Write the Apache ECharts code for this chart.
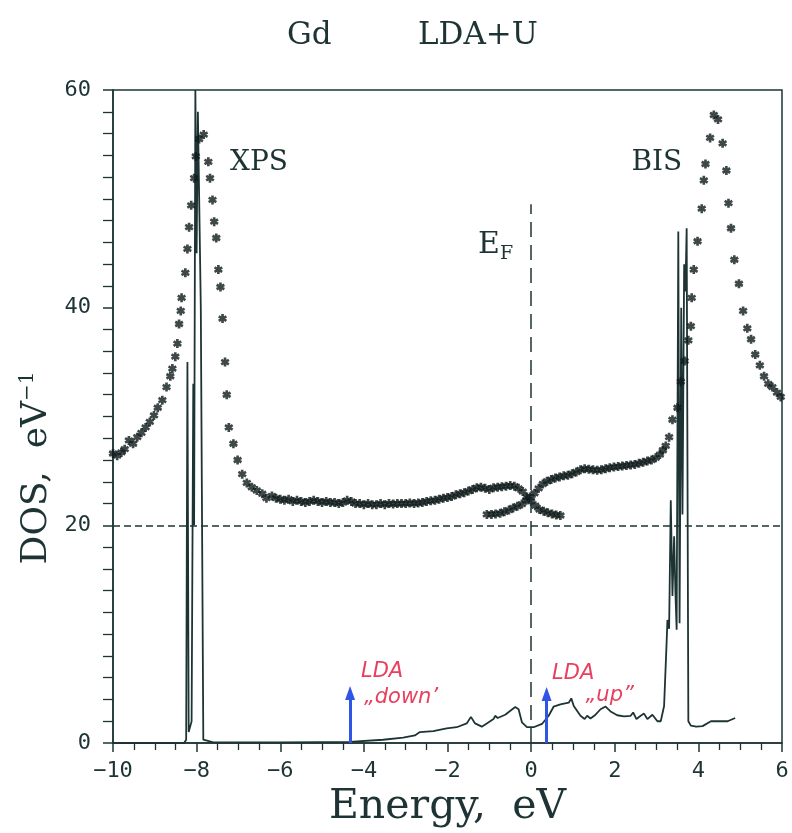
<!DOCTYPE html>
<html>
<head>
<meta charset="utf-8">
<script src="https://cdn.jsdelivr.net/npm/echarts@6/dist/echarts.min.js"></script>
<style>
  html, body { margin: 0; padding: 0; background: #fff; }
  #chart { width: 792px; height: 833px; }
</style>
</head>
<body>
<div id="chart"></div>
<script>
// Gd, LDA+U: calculated density of states vs. XPS / BIS spectra
const INK = '#1e3434';

// Tick settings for the energy axis (eV) and DOS axis (1/eV)
const energyTicks = { min: -10, max: 6, step: 2 };
const dosTicks = { min: 0, max: 60, step: 20 };

// Calculated LDA+U density of states, [energy, DOS]
const dosCurve = [
  [-10, 0], [-8.3, 0], [-8.25, 0.3], [-8.22, 35], [-8.19, 1], [-8.12, 2], [-8.08, 33],
  [-8.06, 20], [-8.03, 60], [-8.0, 45], [-7.97, 58], [-7.9, 40], [-7.84, 0.3],
  [-7.6, 0.05], [-7.0, 0.05], [-6.0, 0.05], [-5.0, 0.08],
  [-4.34, 0.1], [-3.54, 0.3], [-3.06, 0.5], [-2.78, 0.7], [-2.66, 1.0], [-2.34, 1.1],
  [-2.02, 1.35], [-1.78, 1.45], [-1.54, 1.8], [-1.44, 2.4], [-1.34, 1.8], [-1.18, 1.5],
  [-1.06, 1.8], [-0.90, 2.2], [-0.86, 2.5], [-0.80, 2.3], [-0.62, 2.6], [-0.38, 3.3],
  [-0.30, 3.1], [-0.22, 1.9], [-0.10, 1.45], [0.06, 1.45], [0.26, 1.75], [0.42, 2.5],
  [0.54, 3.35], [0.70, 3.55], [0.90, 3.7], [0.96, 4.1], [1.02, 3.4], [1.18, 2.5],
  [1.28, 2.2], [1.34, 2.5], [1.42, 2.25], [1.54, 2.6], [1.66, 3.1], [1.78, 3.35],
  [1.90, 2.9], [2.06, 2.55], [2.22, 2.45], [2.38, 2.5], [2.44, 2.8], [2.52, 2.2],
  [2.62, 2.5], [2.70, 2.7], [2.78, 2.2], [2.90, 2.6], [3.02, 2.0], [3.10, 2.0],
  [3.18, 3.4], [3.24, 9.2], [3.26, 11.3], [3.30, 10.5], [3.34, 22.3], [3.38, 13.5],
  [3.42, 19], [3.45, 14], [3.48, 10.4], [3.52, 47], [3.55, 11], [3.59, 40], [3.62, 21],
  [3.66, 44], [3.69, 41.5], [3.72, 47.3], [3.76, 2.0], [3.82, 1.6], [3.95, 1.5],
  [4.1, 1.55], [4.3, 2.0], [4.5, 2.0], [4.7, 2.0], [4.88, 2.3]
];

// XPS spectrum (occupied states), [energy, intensity]
const xpsPoints = [
  [-10.0, 26.6], [-9.9, 26.4], [-9.8, 26.7], [-9.72, 27.0], [-9.62, 27.8], [-9.52, 27.5],
  [-9.42, 28.1], [-9.32, 28.5], [-9.22, 29.0], [-9.12, 29.5], [-9.02, 30.1], [-8.93, 30.8],
  [-8.82, 31.5], [-8.72, 32.7], [-8.63, 33.7], [-8.58, 34.4], [-8.51, 35.5], [-8.46, 36.7],
  [-8.42, 38.5], [-8.38, 39.7], [-8.36, 40.9], [-8.27, 43.2], [-8.22, 45.4], [-8.18, 47.4],
  [-8.13, 49.4], [-8.06, 51.9], [-8.02, 53.9], [-7.94, 55.5], [-7.83, 55.9], [-7.72, 53.4],
  [-7.68, 51.9], [-7.62, 49.9], [-7.58, 47.9], [-7.53, 46.4], [-7.48, 43.5], [-7.43, 41.9],
  [-7.38, 39.0], [-7.32, 35.0], [-7.28, 32.0], [-7.23, 29.0], [-7.12, 27.5], [-7.02, 26.0],
  [-6.91, 24.7], [-6.80, 23.9], [-6.68, 23.5], [-6.56, 23.2], [-6.43, 22.9], [-6.33, 22.5],
  [-6.2, 22.7], [-6.1, 22.5], [-6.0, 22.4], [-5.9, 22.3], [-5.8, 22.4], [-5.7, 22.2],
  [-5.6, 22.3], [-5.5, 22.2], [-5.4, 22.1], [-5.3, 22.2], [-5.2, 22.3], [-5.1, 22.2],
  [-5.0, 22.1], [-4.9, 22.2], [-4.8, 22.1], [-4.7, 22.1], [-4.6, 22.0], [-4.5, 22.1],
  [-4.4, 22.3], [-4.3, 22.2], [-4.2, 22.0], [-4.1, 22.0], [-4.0, 21.9], [-3.9, 22.0],
  [-3.8, 21.9], [-3.7, 21.9], [-3.6, 22.0], [-3.5, 21.9], [-3.4, 22.0], [-3.3, 21.95],
  [-3.2, 22.0], [-3.1, 22.0], [-3.0, 22.0], [-2.9, 22.05], [-2.8, 22.0], [-2.7, 22.05],
  [-2.6, 22.1], [-2.5, 22.2], [-2.4, 22.25], [-2.3, 22.3], [-2.2, 22.4], [-2.1, 22.5],
  [-2.0, 22.55], [-1.9, 22.65], [-1.8, 22.8], [-1.7, 22.9], [-1.6, 23.0], [-1.5, 23.15],
  [-1.4, 23.3], [-1.3, 23.45], [-1.2, 23.5], [-1.1, 23.4], [-1.0, 23.3], [-0.9, 23.45],
  [-0.8, 23.5], [-0.7, 23.55], [-0.6, 23.6], [-0.5, 23.65], [-0.4, 23.6], [-0.3, 23.4],
  [-0.2, 23.1], [-0.1, 22.6], [0.0, 22.2], [0.1, 21.8], [0.2, 21.45], [0.3, 21.3],
  [0.4, 21.15], [0.5, 21.05], [0.6, 20.95], [0.7, 20.9]
];

// BIS spectrum (unoccupied states), [energy, intensity]
const bisPoints = [
  [-1.06, 21.0], [-0.95, 21.0], [-0.85, 21.05], [-0.74, 21.1], [-0.64, 21.25], [-0.53, 21.4],
  [-0.43, 21.6], [-0.33, 21.75], [-0.22, 21.95], [-0.12, 22.3], [-0.02, 22.6], [0.08, 22.95],
  [0.18, 23.4], [0.28, 23.8], [0.38, 24.05], [0.48, 24.2], [0.58, 24.35], [0.68, 24.45],
  [0.78, 24.55], [0.88, 24.6], [0.98, 24.75], [1.08, 24.9], [1.18, 25.1], [1.28, 25.2],
  [1.38, 25.15], [1.48, 25.1], [1.58, 25.05], [1.68, 25.1], [1.78, 25.2], [1.88, 25.3],
  [1.98, 25.35], [2.08, 25.4], [2.18, 25.45], [2.28, 25.5], [2.38, 25.55], [2.48, 25.6],
  [2.58, 25.7], [2.68, 25.8], [2.78, 25.9], [2.88, 26.0], [2.98, 26.2], [3.08, 26.5],
  [3.15, 26.9], [3.22, 27.3], [3.30, 28.1], [3.38, 29.7], [3.50, 30.8], [3.58, 33.2],
  [3.67, 35.1], [3.76, 37.0], [3.82, 38.3], [3.84, 40.9], [3.89, 43.5], [3.98, 46.1],
  [4.08, 49.1], [4.13, 51.7], [4.17, 53.2], [4.28, 55.6], [4.37, 57.7], [4.47, 57.3],
  [4.58, 55.1], [4.67, 52.6], [4.72, 49.6], [4.78, 47.3], [4.86, 44.4], [4.97, 42.2],
  [5.07, 39.7], [5.17, 38.1], [5.26, 37.1], [5.36, 35.7], [5.47, 34.7], [5.57, 33.7],
  [5.67, 33.0], [5.77, 32.7], [5.88, 32.2], [5.97, 31.8]
];

// Positions of the LDA spin-down / spin-up levels, [energy, arrow height]
const ldaDown = [-4.33, 4.6];
const ldaUp = [0.37, 4.5];

// Fermi level marker and reference level
const fermiEnergy = 0;
const fermiTop = 49.5;
const referenceLevel = 20;

// six-armed asterisk used as the spectrum marker
const ASTERISK = 'path://M-1.5,-5L1.5,-5L1.5,5L-1.5,5Z' +
  'M3.58,-3.8L5.08,-1.2L-3.58,3.8L-5.08,1.2Z' +
  'M5.08,1.2L3.58,3.8L-5.08,-1.2L-3.58,-3.8Z';

const minus = v => (v < 0 ? '\u2212' + Math.abs(v) : String(v));

const chart = echarts.init(document.getElementById('chart'), null, { renderer: 'canvas' });

const option = {
  backgroundColor: '#ffffff',
  animation: false,
  title: [
    { text: 'Gd', left: 282, top: 15,
      textStyle: { fontFamily: 'DejaVu Serif', fontSize: 31, fontWeight: 'normal', color: INK } },
    { text: 'LDA+U', left: 413, top: 15,
      textStyle: { fontFamily: 'DejaVu Serif', fontSize: 31, fontWeight: 'normal', color: INK } }
  ],
  grid: {
    left: 113, right: 10, top: 90, bottom: 90,
    show: true, borderColor: INK, borderWidth: 1.5, backgroundColor: 'transparent'
  },
  xAxis: {
    type: 'value',
    min: energyTicks.min, max: energyTicks.max, interval: energyTicks.step,
    axisLine: { show: true, onZero: false, lineStyle: { color: INK, width: 1.5 } },
    axisTick: { show: true, inside: false, length: 9, lineStyle: { color: INK, width: 1.5 } },
    minorTick: { show: true, splitNumber: 4, length: 7, lineStyle: { color: INK, width: 1.3 } },
    splitLine: { show: false },
    axisLabel: {
      margin: 17, formatter: minus,
      fontFamily: 'DejaVu Sans Mono', fontSize: 22, color: INK
    },
    name: 'Energy,  eV',
    nameLocation: 'middle',
    nameGap: 42,
    nameTextStyle: { fontFamily: 'DejaVu Serif', fontSize: 41, color: INK }
  },
  yAxis: {
    type: 'value',
    min: dosTicks.min, max: dosTicks.max, interval: dosTicks.step,
    axisLine: { show: true, onZero: false, lineStyle: { color: INK, width: 1.5 } },
    axisTick: { show: true, inside: false, length: 10, lineStyle: { color: INK, width: 1.5 } },
    minorTick: { show: true, splitNumber: 10, length: 10, lineStyle: { color: INK, width: 1.3 } },
    splitLine: { show: false },
    axisLabel: { margin: 22, fontFamily: 'DejaVu Sans Mono', fontSize: 22, color: INK }
  },
  series: [
    {
      name: 'DOS',
      type: 'line',
      data: dosCurve,
      showSymbol: false,
      symbol: 'none',
      lineStyle: { color: INK, width: 1.8 },
      z: 3,
      markLine: {
        silent: true,
        symbol: 'none',
        label: { show: false },
        data: [
          [
            { coord: [energyTicks.min, referenceLevel], lineStyle: { type: [7, 4], width: 1.5, color: INK } },
            { coord: [energyTicks.max, referenceLevel] }
          ],
          [
            { coord: [fermiEnergy, 0], lineStyle: { type: [15, 8], width: 1.5, color: INK } },
            { coord: [fermiEnergy, fermiTop] }
          ]
        ]
      }
    },
    {
      name: 'XPS',
      type: 'scatter',
      data: xpsPoints,
      symbol: ASTERISK,
      symbolSize: 9,
      itemStyle: { color: '#0f1a1a' },
      z: 4
    },
    {
      name: 'BIS',
      type: 'scatter',
      data: bisPoints,
      symbol: ASTERISK,
      symbolSize: 9,
      itemStyle: { color: '#0f1a1a' },
      z: 4
    },
    {
      name: 'LDA levels',
      type: 'line',
      data: [],
      markLine: {
        silent: true,
        symbol: ['none', 'triangle'],
        symbolSize: [10, 14],
        label: { show: false },
        lineStyle: { color: '#2f55e6', width: 3, type: 'solid' },
        data: [
          [{ coord: [ldaDown[0], 0] }, { coord: [ldaDown[0], ldaDown[1]] }],
          [{ coord: [ldaUp[0], 0] }, { coord: [ldaUp[0], ldaUp[1]] }]
        ]
      },
      z: 5
    }
  ]
};

chart.setOption(option);

// Annotations placed from data coordinates
const px = (x, y) => chart.convertToPixel({ gridIndex: 0 }, [x, y]);
const redText = {
  fontFamily: 'DejaVu Sans', fontStyle: 'italic', fontSize: 21, fill: '#e8405c'
};
const pXps = px(-7.2, 53.3);
const pBis = px(2.4, 53.3);
const pEf = px(-1.27, 45.7);
const pDown1 = px(-4.07, 6.6);
const pDown2 = px(-4.0, 4.2);
const pUp1 = px(0.5, 6.4);
const pUp2 = px(1.3, 4.4);
const ylabel = { x: 37, y: 468 };

chart.setOption({
  graphic: [
    { type: 'text', x: pXps[0], y: pXps[1],
      style: { text: 'XPS', fontFamily: 'DejaVu Serif', fontSize: 28, fill: INK, verticalAlign: 'middle' } },
    { type: 'text', x: pBis[0], y: pBis[1],
      style: { text: 'BIS', fontFamily: 'DejaVu Serif', fontSize: 28, fill: INK, verticalAlign: 'middle' } },
    { type: 'text', x: pEf[0], y: pEf[1],
      style: {
        text: '{e|E}{f|F}',
        verticalAlign: 'middle',
        rich: {
          e: { fontFamily: 'DejaVu Serif', fontSize: 30, fill: INK, color: INK },
          f: { fontFamily: 'DejaVu Serif', fontSize: 19, fill: INK, color: INK, padding: [16, 0, 0, 0] }
        }
      } },
    { type: 'text', x: pDown1[0], y: pDown1[1],
      style: Object.assign({ text: 'LDA', verticalAlign: 'middle' }, redText) },
    { type: 'text', x: pDown2[0], y: pDown2[1],
      style: Object.assign({ text: '\u201Edown\u2019', verticalAlign: 'middle' }, redText) },
    { type: 'text', x: pUp1[0], y: pUp1[1],
      style: Object.assign({ text: 'LDA', verticalAlign: 'middle' }, redText) },
    { type: 'text', x: pUp2[0], y: pUp2[1],
      style: Object.assign({ text: '\u201Eup\u201D', verticalAlign: 'middle' }, redText) },
    { type: 'text', x: ylabel.x, y: ylabel.y, rotation: Math.PI / 2,
      style: {
        text: '{a|DOS,  eV}{s|\u22121}',
        align: 'center', verticalAlign: 'middle',
        rich: {
          a: { fontFamily: 'DejaVu Serif', fontSize: 36, fill: INK, color: INK },
          s: { fontFamily: 'DejaVu Serif', fontSize: 20, fill: INK, color: INK, padding: [0, 0, 18, 0] }
        }
      } }
  ]
});
</script>
</body>
</html>
